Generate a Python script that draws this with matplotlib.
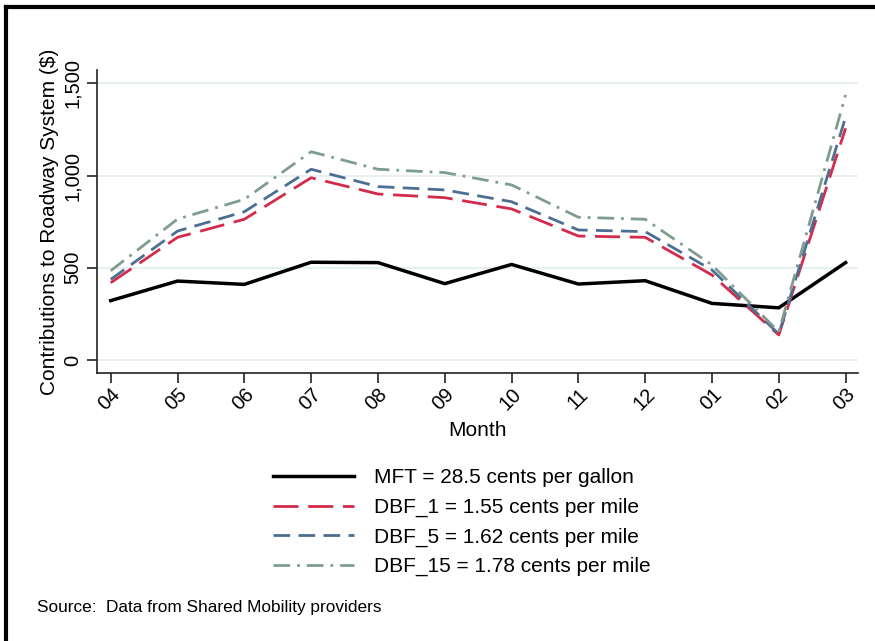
import numpy as np
import matplotlib.pyplot as plt
from matplotlib.lines import Line2D

plt.rcParams['font.family'] = ['Liberation Sans', 'DejaVu Sans']

months = ['04', '05', '06', '07', '08', '09', '10', '11', '12', '01', '02', '03']

mft = [322, 428, 410, 530, 528, 414, 518, 412, 430, 307, 283, 528]
dbf_1 = [419, 665, 763, 988, 900, 880, 819, 672, 665, 461, 136, 1256]
dbf_5 = [437, 699, 804, 1034, 940, 922, 858, 705, 696, 488, 141, 1316]
dbf_15 = [484, 764, 871, 1129, 1034, 1016, 949, 774, 763, 515, 153, 1437]

labels = ['MFT = 28.5 cents per gallon',
          'DBF_1 = 1.55 cents per mile',
          'DBF_5 = 1.62 cents per mile',
          'DBF_15 = 1.78 cents per mile']

fig = plt.figure(figsize=(8.75, 6.41), dpi=100)
ax = fig.add_axes([0.1109, 0.4176, 0.8700, 0.4732])

x = np.arange(len(months))
c_red = '#d42a4b'
c_blue = '#4c6f91'
c_green = '#7f9d8f'

l1, = ax.plot(x, mft, color='black', lw=2.5, solid_joinstyle='miter')
l2, = ax.plot(x, dbf_1, color=c_red, lw=2, dashes=(9, 3.5))
l3, = ax.plot(x, dbf_5, color=c_blue, lw=2, dashes=(6, 3))
l4, = ax.plot(x, dbf_15, color=c_green, lw=2, dashes=(6, 2.5, 1, 2.5))

ax.set_xlim(-0.205, 11.19)
ax.set_ylim(-72, 1572)
ax.set_yticks([0, 500, 1000, 1500])
ax.set_yticklabels(['0', '500', '1,000', '1,500'], rotation=90, va='center')
ax.set_xticks(x)
ax.set_xticklabels(months, rotation=45, ha='right', rotation_mode='anchor')
ax.grid(axis='y', color='#e9f0f2', lw=1.5)
ax.set_axisbelow(True)
for s in ['top', 'right']:
    ax.spines[s].set_visible(False)
for s in ['left', 'bottom']:
    ax.spines[s].set_color('#222222')
    ax.spines[s].set_linewidth(1.2)
ax.tick_params(axis='both', length=7, width=1.2, color='#222222', labelsize=14.5)
ax.tick_params(axis='x', pad=1)
ax.set_xlabel('Month', fontsize=15, labelpad=5)
ax.set_ylabel('Contributions to Roadway System ($)', fontsize=15, labelpad=3)

fig.legend([l1, l2, l3, l4], labels, loc='center', bbox_to_anchor=(0.528, 0.185),
           frameon=False, fontsize=15, handlelength=3.9, handletextpad=0.95,
           labelspacing=0.5)

fig.text(0.042, 0.053, 'Source:  Data from Shared Mobility providers', fontsize=12.4,
         va='center')

# black frame at top and left like the original screenshot
fig.add_artist(Line2D([0.007, 1.0], [0.989, 0.989], color='black', lw=3, transform=fig.transFigure))
fig.add_artist(Line2D([0.007, 0.007], [0.0, 0.989], color='black', lw=3, transform=fig.transFigure))

fig.savefig('out.png', dpi=100)
